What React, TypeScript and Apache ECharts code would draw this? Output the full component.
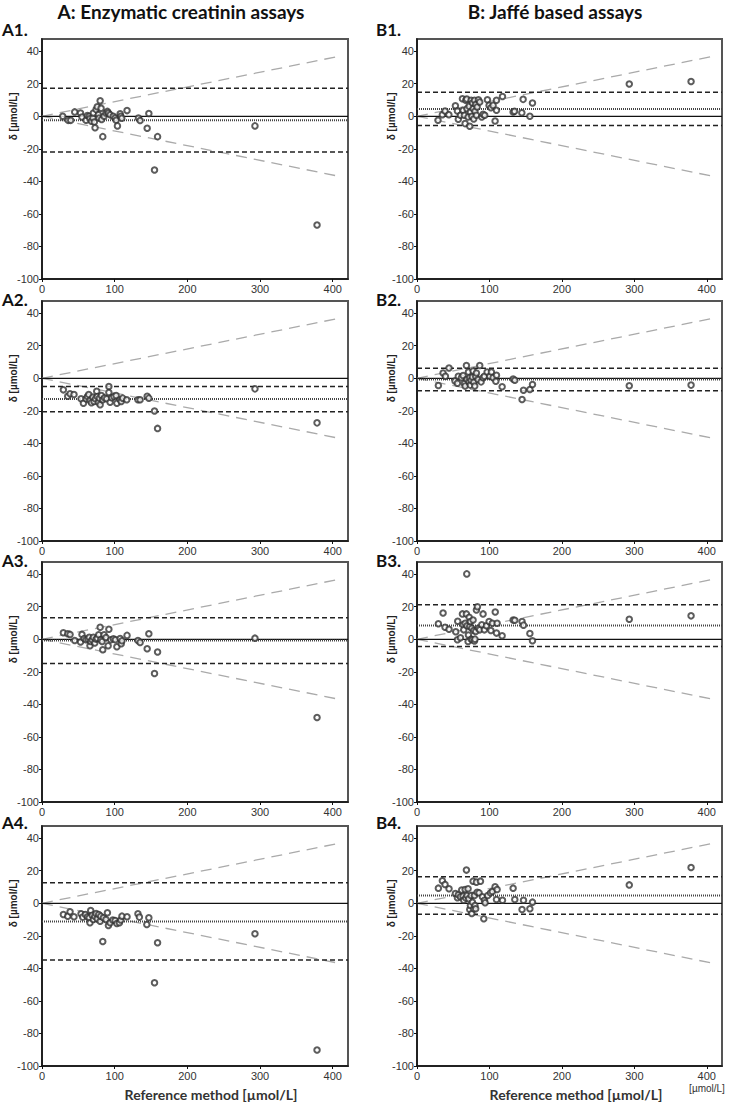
import React, { useEffect, useRef } from "react";
import * as echarts from "echarts";

const panelNames = ["A1.", "A2.", "A3.", "A4.", "B1.", "B2.", "B3.", "B4."];
const columnTitles = ["A: Enzymatic creatinin assays", "B: Jaffé based assays"];
const xTicks = [0, 100, 200, 300, 400];
const yTicks = [-100, -80, -60, -40, -20, 0, 20, 40];
const xRange = [0, 421];
const yRange = [-100, 47.5];

const meanBias = [-2.4, -12.8, -0.8, -11.2, 4.5, -0.8, 8.4, 4.8];
const upperLoA = [17.2, -5.1, 13.3, 12.6, 14.7, 6.1, 21.3, 16.3];
const lowerLoA = [-22.0, -20.5, -14.9, -34.9, -5.7, -7.7, -4.4, -6.7];
const funnelUpper = [[0, 0], [410, 37]];
const funnelLower = [[0, 0], [410, -37]];

const a1Points = [
  [28.5, 0], [36, -2.5], [39.5, -2.5], [45, 2.7], [53, 2], [55, -0.4], [60.6, -2.4], [62.5, 0.5],
  [65, 0], [66, -1.4], [68, -3], [70, -1], [70.7, 2], [72, -3.5], [73, -7], [74.4, 4.1],
  [76, 5.8], [77.6, 1], [78.5, -1], [80, 9.6], [81.3, 5], [82, -2], [83.6, -12.5], [85.4, 0],
  [88, 2], [90, 3], [91.4, 2], [93.7, 1], [98, 0], [100.6, -1], [102, -2.4], [103.8, -5.9],
  [107.5, 1.6], [108.4, 0], [109.8, -1.2], [117, 3.5], [132.7, -1], [135, -2.6], [144.7, -7.3],
  [147, 1.7], [154.8, -33], [159, -12.5], [293, -5.9], [378.4, -66.8],
];
const a2Points = [
  [29.4, -7.1], [35.4, -11], [38.6, -9.5], [44, -10], [53.7, -12.6], [57, -15.3], [60.6, -12.6],
  [62.5, -11.2], [64.3, -10], [66, -13.6], [68, -15], [70, -11.6], [71.6, -14.2], [73.5, -12.6],
  [75.3, -8], [76, -11.2], [77.6, -14.7], [79, -12.2], [80, -16.3], [81.7, -10.6], [83.6, -13.2],
  [86, -12], [89, -12.6], [92, -5], [92, -8.8], [93.7, -14.7], [96, -12], [99, -11.2], [102, -10.6],
  [103, -15.3], [107.5, -13.2], [109, -14.2], [111, -12.2], [116.6, -13.2], [132, -13.2],
  [135, -13.2], [144.7, -11], [147, -12.2], [154.8, -20.1], [159, -30.8], [293, -6.5], [378.4, -27.4],
];
const a3Points = [
  [29.4, 4], [35.4, 3.4], [38.6, 3], [45, -0.7], [53, -1.7], [55, 3], [58, 0.5], [60.6, -0.3],
  [63.4, 0.1], [65, 1.3], [66, -4], [67, -1.3], [69, -0.3], [70.7, 1.3], [72.6, -2.3], [74.4, 0.1],
  [76, 0.7], [78, 2.8], [80, 7.4], [80.8, -0.3], [82.7, -1.3], [83.6, -6.4], [85.4, 2.8], [88, 1.1],
  [91, -4], [92, 6.2], [94.6, -0.3], [98.3, 0.3], [101, -0.3], [103, -4.6], [107.5, 0.5], [109, -2.7],
  [110, -0.9], [117, 2.4], [132, -0.7], [135, -1.9], [144.7, -5.8], [147, 3.4], [154.8, -21],
  [159, -7.8], [293, 0.7], [378.4, -48.1],
];
const a4Points = [
  [29.4, -6.9], [35.4, -7.9], [38.6, -5.2], [44, -8.3], [53.7, -6.5], [56, -8.5], [59.7, -6.9],
  [62.5, -8.3], [65, -8.9], [66, -12], [67, -4.4], [69, -7.3], [70.7, -9.9], [72.6, -7.9],
  [74.4, -6.3], [76, -9.5], [78, -6.9], [80, -11], [80.8, -7.9], [83.6, -23.5], [84.5, -8.9],
  [88, -9.9], [90, -5.8], [91.4, -13.6], [93.7, -12], [97.4, -10.3], [100.6, -10.6], [103, -12.4],
  [106.5, -12], [108.4, -10.3], [110, -7.9], [117, -8.3], [132, -6.5], [134, -8.5], [144.2, -13],
  [147, -8.9], [154.8, -48.8], [159, -24.3], [293, -18.7], [378.4, -90.2],
];
const b1Points = [
  [29, -2.4], [35, 1], [38.7, 3.3], [44, 1], [53, 6.5], [55.8, 3.3], [57, -1.8], [60, 0.6],
  [62.7, 10.8], [63.6, 3.7], [65.4, 0.6], [66.4, -4.5], [67.3, 9.8], [68.7, 10.6], [69, 4.7],
  [70.5, -0.4], [72, 6.1], [72.8, -6.1], [73.7, 2.7], [74.7, 9.8], [75.6, 0], [76.5, 8.2],
  [77.4, 4.7], [78.3, -1.6], [79.3, 9.8], [80, 3.1], [81, 7.3], [82, 0.6], [83, 5.7], [84.8, 10.2],
  [86.6, 8.8], [89.4, -0.4], [91.2, 1.2], [93.5, 0.6], [97.2, 10.2], [99.5, 6.7], [102, 5.3],
  [105, 6.7], [107.8, -2.9], [109.7, 9.8], [109.7, 3.7], [118, 12.2], [132.7, 2.7], [134.6, 3.1],
  [144.7, 2.2], [146.5, 10.4], [155.8, 0], [159.4, 8.2], [293, 19.8], [378.3, 21.4],
];
const b2Points = [
  [29.5, -4.4], [36, 3.3], [39.2, 1.3], [44.2, 6.3], [52.5, -1.6], [55.8, -3], [57, 1.3], [61.3, 0.4],
  [63.6, 1.7], [65.4, -3.2], [66.4, -4.8], [68.2, 7.9], [69, -0.6], [71, 3.9], [71.9, -2.2],
  [72.8, 0.4], [73.7, -4.2], [74.7, -1.2], [76.5, 0.8], [77.4, 4.5], [78.3, -2.4], [79.7, -4.8],
  [81, 1.3], [82, 3.3], [84.3, -0.8], [86.6, 7.9], [88.5, -2.2], [91.2, 0.4], [93, 1.3], [96.8, 3.9],
  [100.5, 1.3], [102.7, 3.9], [105, 0.4], [108.8, -1.8], [109.7, 1.9], [117.5, -5.2], [132.7, -0.4],
  [135, -1.2], [145, -13], [147, -7.3], [155.8, -6.9], [159.4, -3.8], [293, -4.6], [378.3, -4.2],
];
const b3Points = [
  [29.5, 9.5], [36, 16.2], [38.7, 7.4], [44.2, 6.2], [53.5, 4.6], [56.2, 11.1], [55.8, -0.3],
  [60, 0.9], [62.7, 15.6], [63.6, 8.9], [64.5, 5.8], [66.4, 9.9], [68.2, 15.6], [68.7, 40.2],
  [69, 8.3], [70.5, -1.3], [71, 2.6], [72, 13.5], [72.8, 7.8], [73.7, 10.9], [74.7, 0.1], [75.6, 6.8],
  [76.5, -0.3], [77.4, 11.9], [78.3, 5.4], [79.3, -1.1], [80, 0.1], [81, 4.8], [82, 18], [83.4, 20],
  [84.8, 6.8], [86.6, 5.8], [89.4, 8.9], [91.2, 15.6], [93, 5.8], [95.8, 8.3], [99.5, 10.9],
  [102, 5.4], [104, 9.9], [108, 16.8], [109.7, 3.8], [110.6, 9.9], [117.5, 2.2], [132.7, 11.9],
  [135, 11.7], [145, 10.9], [147, 8.7], [155.8, 3.6], [159.4, -0.9], [293, 12.3], [378.3, 14.4],
];
const b4Points = [
  [29.5, 9.3], [35, 13.8], [38.7, 11.6], [44.2, 8.9], [53, 6], [55.8, 3.4], [57, 5.2], [60, 4],
  [61.7, 8.1], [63.6, 4.4], [64.5, 1.9], [66.4, 8.5], [67.3, 3.2], [68.2, 20.4], [69, 4.8],
  [70.5, 8.9], [71.4, 2.8], [72.8, -3.8], [73.7, -1.3], [74.7, 4.8], [75.6, -6.3], [76.5, 0.7],
  [77.4, 13.6], [78.3, -3.4], [79.3, 4.8], [80, -1.3], [81, -3.4], [82, 13], [83, 6.8], [85.7, 6.4],
  [87.6, 13.6], [90.3, 4], [92.2, -9.5], [93, 1.9], [94, 0.3], [97.7, 4.8], [101.4, 6.4], [104, 7.3],
  [107.8, 10.1], [109.7, 2.3], [110.6, 8.5], [118, 1.9], [132.7, 9.3], [135, 2.3], [145, -3.8],
  [147, 1.9], [155.8, -3.4], [159.4, 0.7], [293, 11.3], [378.3, 22],
];
const panelPoints = [a1Points, a2Points, a3Points, a4Points, b1Points, b2Points, b3Points, b4Points];

const colLeft = [42, 417];
const colWidth = [306, 305];
const rowTop = [39, 301, 562, 826];
const gridHeight = 240;

export default function App() {
  const ref = useRef<HTMLDivElement>(null);
  useEffect(() => {
    if (!ref.current) return;
    const chart = echarts.init(ref.current, undefined, { renderer: "svg" });
    const grids: any[] = [];
    const xAxes: any[] = [];
    const yAxes: any[] = [];
    const series: any[] = [];
    const graphics: any[] = [];
    const labelFont = "Liberation Sans, Arial, sans-serif";
    const boldFont = "Lato, Open Sans, sans-serif";

    for (let i = 0; i < 8; i++) {
      const col = i < 4 ? 0 : 1;
      const row = i % 4;
      const left = colLeft[col];
      const top = rowTop[row];
      grids.push({
        left, top, width: colWidth[col], height: gridHeight,
        show: true, borderColor: "#555", borderWidth: 2, backgroundColor: "transparent",
      });
      xAxes.push({
        type: "value", gridIndex: i, min: xRange[0], max: xRange[1], interval: 100,
        axisLine: { show: true, onZero: false, lineStyle: { color: "#111", width: 1.5 } },
        axisTick: { show: true, length: 3, lineStyle: { color: "#111" }, customValues: xTicks },
        axisLabel: {
          fontSize: 11, color: "#333", fontFamily: labelFont, margin: 4, customValues: xTicks,
          formatter: (v: number) => (v % 100 === 0 ? String(v) : ""),
        },
        splitLine: { show: false },
      });
      yAxes.push({
        type: "value", gridIndex: i, min: yRange[0], max: yRange[1], interval: 20,
        axisLine: { show: true, onZero: false, lineStyle: { color: "#111", width: 1.5 } },
        axisTick: { show: true, length: 3, lineStyle: { color: "#111" }, customValues: yTicks },
        axisLabel: {
          fontSize: 11, color: "#333", fontFamily: labelFont, margin: 3, customValues: yTicks,
          formatter: (v: number) => (v % 20 === 0 ? String(v) : ""),
        },
        splitLine: { show: false },
      });
      const hl = (y: number) => [[xRange[0], y], [xRange[1], y]];
      const lineBase = { type: "line", xAxisIndex: i, yAxisIndex: i, showSymbol: false, symbol: "none", silent: true, z: 2 };
      series.push({ ...lineBase, data: funnelUpper, lineStyle: { color: "#aaa", width: 1.3, type: [11, 7] } });
      series.push({ ...lineBase, data: funnelLower, lineStyle: { color: "#aaa", width: 1.3, type: [11, 7] } });
      series.push({ ...lineBase, data: hl(0), lineStyle: { color: "#111", width: 1.3, type: "solid" } });
      series.push({ ...lineBase, data: hl(meanBias[i]), lineStyle: { color: "#444", width: 2, type: [1, 1] } });
      series.push({ ...lineBase, data: hl(upperLoA[i]), lineStyle: { color: "#222", width: 1.5, type: [5, 3] } });
      series.push({ ...lineBase, data: hl(lowerLoA[i]), lineStyle: { color: "#222", width: 1.5, type: [5, 3] } });
      series.push({
        type: "scatter", xAxisIndex: i, yAxisIndex: i, data: panelPoints[i], symbol: "emptyCircle",
        symbolSize: 5.5, itemStyle: { color: "#333", borderColor: "#333", borderWidth: 0.9 }, silent: true, z: 3,
      });

      const labelX = col === 0 ? 2 : 376;
      const labelY = [29, 299, 560, 822][row];
      graphics.push({
        type: "text", x: labelX, y: labelY,
        style: { text: panelNames[i], font: `bold 17px ${boldFont}`, fill: "#111", textVerticalAlign: "middle" },
      });
      const zeroPx = top + ((yRange[1] - 0) / (yRange[1] - yRange[0])) * gridHeight;
      graphics.push({
        type: "text", x: col === 0 ? 13 : 391, y: zeroPx, rotation: Math.PI / 2,
        style: { text: "δ [µmol/L]", font: `bold 10px ${labelFont}`, fill: "#222", textAlign: "center", textVerticalAlign: "middle" },
      });
    }

    graphics.push({
      type: "text", x: 181, y: 11,
      style: { text: columnTitles[0], font: `bold 19px ${boldFont}`, fill: "#111", textAlign: "center", textVerticalAlign: "middle" },
    });
    graphics.push({
      type: "text", x: 555, y: 11,
      style: { text: columnTitles[1], font: `bold 19px ${boldFont}`, fill: "#111", textAlign: "center", textVerticalAlign: "middle" },
    });
    graphics.push({
      type: "text", x: 211, y: 1094,
      style: { text: "Reference method [µmol/L]", font: `bold 14px ${boldFont}`, fill: "#333", textAlign: "center", textVerticalAlign: "middle" },
    });
    graphics.push({
      type: "text", x: 576, y: 1094,
      style: { text: "Reference method [µmol/L]", font: `bold 14px ${boldFont}`, fill: "#333", textAlign: "center", textVerticalAlign: "middle" },
    });
    graphics.push({
      type: "text", x: 707, y: 1088,
      style: { text: "[µmol/L]", font: `10px ${labelFont}`, fill: "#333", textAlign: "center", textVerticalAlign: "middle" },
    });

    chart.setOption({
      animation: false,
      backgroundColor: "#fff",
      grid: grids,
      xAxis: xAxes,
      yAxis: yAxes,
      series,
      graphic: graphics,
    });
    return () => chart.dispose();
  }, []);
  return <div ref={ref} style={{ position: "absolute", left: 0, top: 0, width: 729, height: 1103 }} />;
}
